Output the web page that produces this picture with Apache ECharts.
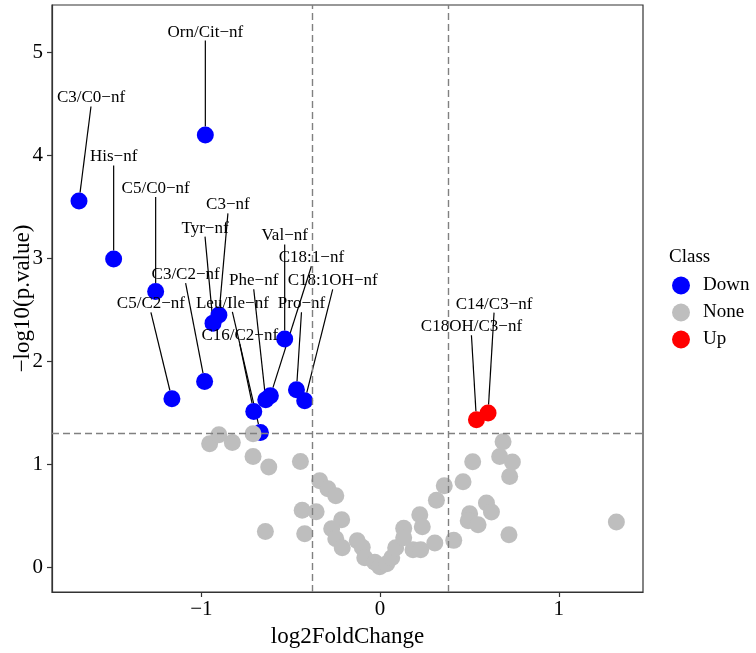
<!DOCTYPE html>
<html>
<head>
<meta charset="utf-8">
<title>volcano</title>
<script src="https://cdn.jsdelivr.net/npm/echarts@6.0.0/dist/echarts.min.js"></script>
<style>
  html, body { margin: 0; padding: 0; background: #fff; }
  #volcano { width: 756px; height: 653px; }
</style>
</head>
<body>
<div id="volcano"></div>
<script>
// 数据
var downNames = ["C3/C0−nf", "His−nf", "C5/C0−nf", "Orn/Cit−nf", "C5/C2−nf", "C3/C2−nf", "Tyr−nf", "C3−nf",
  "C16/C2−nf", "Leu/Ile−nf", "Phe−nf", "C18:1−nf", "Val−nf", "Pro−nf", "C18:1OH−nf"];
var downX = [-1.685, -1.491, -1.256, -0.978, -1.165, -0.982, -0.935, -0.902, -0.707, -0.670, -0.640, -0.614, -0.534, -0.468, -0.422];
var downY = [3.558, 2.996, 2.679, 4.198, 1.639, 1.806, 2.373, 2.453, 1.515, 1.312, 1.629, 1.668, 2.220, 1.726, 1.619];

var upNames = ["C18OH/C3−nf", "C14/C3−nf"];
var upX = [0.539, 0.604];
var upY = [1.435, 1.500];

var noneX = [-0.954, -0.902, -0.827, -0.711, -0.711, -0.623, -0.642, -0.446, -0.338, -0.292, -0.248, -0.436, -0.358,
  -0.422, -0.215, -0.271, -0.248, -0.212, -0.128, -0.100, -0.086, -0.030, -0.002, 0.037, 0.065, 0.087, 0.132, 0.132,
  0.184, 0.222, 0.236, 0.227, 0.306, 0.315, 0.359, 0.412, 0.464, 0.518, 0.501, 0.493, 0.548, 0.595, 0.623, 0.688,
  0.669, 0.740, 0.725, 0.721, 1.322];
var noneY = [1.202, 1.290, 1.215, 1.299, 1.079, 0.976, 0.352, 1.031, 0.844, 0.766, 0.698, 0.557, 0.543,
  0.330, 0.465, 0.378, 0.281, 0.194, 0.262, 0.199, 0.097, 0.053, 0.010, 0.039, 0.097, 0.194, 0.383, 0.291,
  0.175, 0.514, 0.398, 0.175, 0.239, 0.654, 0.795, 0.265, 0.834, 1.028, 0.524, 0.456, 0.417, 0.627, 0.540, 1.222,
  1.079, 1.025, 0.885, 0.320, 0.443];

var xTicks = [-1, 0, 1];
var yTicks = [0, 1, 2, 3, 4, 5];
var fcCut = 0.3785; // log2(1.3)
var pCut = 1.301; // -log10(0.05)

(function () {
  var myChart = echarts.init(document.getElementById("volcano"));
  var font = "Liberation Serif";
  var ink = "#333333";

  function toData(names, xs, ys) {
    var list = [];
    for (var i = 0; i < xs.length; i++) {
      list.push({ name: names ? names[i] : "", value: [xs[i], ys[i]] });
    }
    return list;
  }

  // label offset from the point, px (label centre)
  var labelNudge = {
    "C3/C0−nf": [12, -103],
    "His−nf": [0, -102],
    "C5/C0−nf": [0, -103],
    "Orn/Cit−nf": [0, -103],
    "C5/C2−nf": [-21, -95],
    "C3/C2−nf": [-19, -107],
    "Tyr−nf": [-8, -95],
    "C3−nf": [9, -110],
    "C16/C2−nf": [-14, -76],
    "Leu/Ile−nf": [-28, -129],
    "Phe−nf": [-12, -119],
    "C18:1−nf": [41, -138],
    "Val−nf": [0, -103],
    "Pro−nf": [5, -86],
    "C18:1OH−nf": [28, -120],
    "C18OH/C3−nf": [-5, -93],
    "C14/C3−nf": [6, -109],
  };

  var pointLabel = {
    show: true,
    position: "inside",
    formatter: function (p) {
      return p.name;
    },
    color: "#000",
    textBorderWidth: 0,
    fontSize: 17,
    fontFamily: font,
  };
  var pointLabelLine = {
    show: true,
    lineStyle: { color: "#000", width: 1.2 },
  };
  function nudge(params) {
    var n = labelNudge[params.text] || [0, 0];
    return { dx: n[0], dy: n[1] };
  }

  var minus = function (v) {
    return String(v).replace("-", "−");
  };

  option = {
    animation: false,
    textStyle: { fontFamily: font },
    title: {
      text: "Class",
      left: 669,
      top: 248,
      padding: 0,
      textStyle: { fontSize: 19, fontWeight: "normal", color: "#000", fontFamily: font },
    },
    legend: {
      orient: "vertical",
      left: 672,
      top: 276,
      padding: 0,
      itemWidth: 18,
      itemHeight: 18,
      itemGap: 8,
      icon: "circle",
      data: ["Down", "None", "Up"],
      textStyle: { fontSize: 19, color: "#000", fontFamily: font, padding: [0, 0, 0, 8] },
    },
    grid: {
      left: 52,
      top: 5,
      width: 591,
      height: 587,
      show: true,
      borderColor: ink,
      borderWidth: 1.2,
      outerBoundsMode: "none",
    },
    xAxis: {
      type: "value",
      min: -1.836,
      max: 1.471,
      name: "log2FoldChange",
      nameLocation: "middle",
      nameGap: 33,
      nameMoveOverlap: false,
      nameTextStyle: { fontSize: 23, color: "#000", fontFamily: font },
      splitLine: { show: false },
      axisLine: { show: true, onZero: false, lineStyle: { color: ink, width: 1.2 } },
      axisTick: { show: true, length: 5, customValues: xTicks, lineStyle: { color: ink, width: 1.2 } },
      axisLabel: { customValues: xTicks, formatter: minus, fontSize: 21, color: "#000", margin: 7, fontFamily: font },
    },
    yAxis: {
      type: "value",
      min: -0.236,
      max: 5.46,
      name: "−log10(p.value)",
      nameLocation: "middle",
      nameGap: 18,
      nameMoveOverlap: false,
      nameTextStyle: { fontSize: 23, color: "#000", fontFamily: font },
      splitLine: { show: false },
      axisLine: { show: true, onZero: false, lineStyle: { color: ink, width: 1.2 } },
      axisTick: { show: true, length: 5, customValues: yTicks, lineStyle: { color: ink, width: 1.2 } },
      axisLabel: { customValues: yTicks, formatter: minus, fontSize: 21, color: "#000", margin: 9, fontFamily: font },
    },
    series: [
      {
        name: "Down",
        type: "scatter",
        symbol: "circle",
        symbolSize: 17,
        itemStyle: { color: "#0000FF", opacity: 1 },
        label: pointLabel,
        labelLine: pointLabelLine,
        labelLayout: nudge,
        emphasis: { disabled: true },
        data: toData(downNames, downX, downY),
      },
      {
        name: "None",
        type: "scatter",
        symbol: "circle",
        symbolSize: 17,
        itemStyle: { color: "#BEBEBE", opacity: 1 },
        emphasis: { disabled: true },
        data: toData(null, noneX, noneY),
        markLine: {
          silent: true,
          symbol: "none",
          z: 10,
          label: { show: false },
          lineStyle: { color: "#808080", type: [7, 4], width: 1.4 },
          data: [{ xAxis: -fcCut }, { xAxis: fcCut }, { yAxis: pCut }],
        },
      },
      {
        name: "Up",
        type: "scatter",
        symbol: "circle",
        symbolSize: 17,
        itemStyle: { color: "#FF0000", opacity: 1 },
        label: pointLabel,
        labelLine: pointLabelLine,
        labelLayout: nudge,
        emphasis: { disabled: true },
        data: toData(upNames, upX, upY),
      },
    ],
  };

  myChart.setOption(option);
  window.addEventListener("resize", function () {
    myChart.resize();
  });
})();
</script>
</body>
</html>
